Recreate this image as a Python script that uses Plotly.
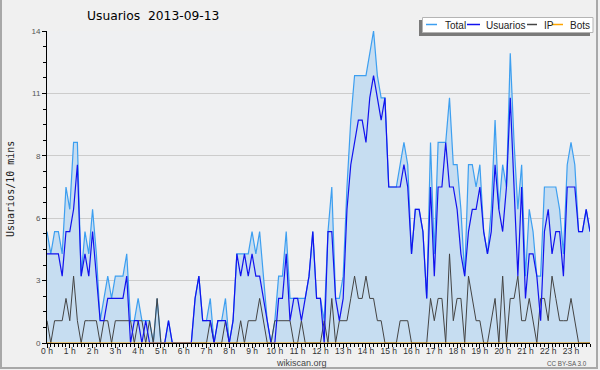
import plotly.graph_objects as go

hours = [f"{h} h" for h in range(24)]
ytick_vals = [0, 2.8, 5.6, 8.4, 11.2, 14]
ytick_text = ["0", "3", "6", "8", "11", "14"]

usuarios = [4, 4, 4, 4, 3, 5, 5, 6, 8, 3, 4, 3, 5, 3, 1, 1, 2, 2, 2, 2,
            2, 3, 0, 1, 1, 0, 1, 0, 0, 0, 0, 0, 1, 0, 0, 0, 0, 0, 0, 2,
            3, 1, 1, 1, 0, 1, 1, 1, 0, 1, 4, 3, 4, 3, 4, 3, 3, 2, 1, 0,
            0, 2, 2, 4, 1, 2, 2, 1, 2, 3, 5, 2, 2, 0, 5, 5, 2, 1, 2, 6,
            8, 9, 10, 10, 9, 11, 12, 11, 10, 11, 7, 7, 7, 7, 8, 7, 4, 6, 6, 5,
            2, 7, 3, 7, 7, 9, 7, 7, 6, 4, 3, 5, 6, 6, 7, 5, 4, 5, 8, 6,
            5, 7, 11, 7, 3, 7, 2, 4, 4, 3, 1, 5, 6, 4, 5, 5, 3, 7, 7, 7,
            5, 5, 6, 5]
ip = [1, 0, 1, 1, 1, 2, 1, 3, 1, 0, 1, 1, 1, 1, 0, 1, 1, 0, 1, 1,
      1, 1, 1, 0, 1, 1, 0, 1, 0, 2, 0, 0, 0, 0, 0, 0, 0, 0, 0, 0,
      0, 0, 0, 1, 0, 0, 0, 1, 0, 0, 0, 1, 0, 1, 1, 1, 2, 1, 0, 0,
      1, 1, 1, 1, 1, 0, 0, 1, 0, 0, 0, 0, 0, 1, 0, 2, 0, 1, 1, 1,
      2, 3, 2, 2, 3, 2, 2, 1, 1, 0, 0, 0, 0, 1, 1, 1, 0, 0, 0, 0,
      0, 2, 1, 2, 2, 0, 4, 1, 2, 2, 0, 3, 2, 1, 1, 0, 0, 1, 2, 0,
      3, 0, 2, 2, 3, 1, 1, 2, 1, 0, 2, 2, 1, 3, 2, 1, 1, 1, 2, 1,
      0, 0, 0, 0]
total = [5, 4, 5, 5, 4, 7, 6, 9, 9, 3, 5, 4, 6, 4, 1, 2, 3, 2, 3, 3,
         3, 4, 1, 1, 2, 1, 1, 1, 0, 2, 0, 0, 1, 0, 0, 0, 0, 0, 0, 2,
         3, 1, 1, 2, 0, 1, 1, 2, 0, 1, 4, 4, 4, 4, 5, 4, 5, 3, 1, 0,
         1, 3, 3, 5, 2, 2, 2, 2, 2, 3, 5, 2, 2, 1, 5, 7, 2, 2, 3, 7,
         10, 12, 12, 12, 12, 13, 14, 12, 11, 11, 7, 7, 7, 8, 9, 8, 4, 6, 6, 5,
         2, 9, 4, 9, 9, 9, 11, 8, 8, 6, 3, 8, 8, 7, 8, 5, 4, 6, 10, 6,
         8, 7, 13, 9, 6, 8, 3, 6, 5, 3, 3, 7, 7, 7, 7, 6, 4, 8, 9, 8,
         5, 5, 6, 5]
bots = [0] * 144
slots = list(range(len(total)))

C_TOTAL = "#3d9ff0"
C_FILL = "#c6ddf1"
C_USR = "#1212ee"
C_IP = "#444444"
C_BOTS = "#ffa500"

W, H = 600, 370
L, R, T, B = 47, 10, 31, 27
PW, PH = W - L - R, H - T - B


def px(x):
    return (x - L) / PW


def py(y):
    return (H - B - y) / PH


fig = go.Figure()
fig.add_trace(go.Scatter(x=slots, y=total, mode="lines", fill="tozeroy",
                         fillcolor=C_FILL, line=dict(color=C_TOTAL, width=1.2),
                         name="Total"))
fig.add_trace(go.Scatter(x=slots, y=ip, mode="lines",
                         line=dict(color=C_IP, width=1.0), name="IP"))
fig.add_trace(go.Scatter(x=slots, y=usuarios, mode="lines",
                         line=dict(color=C_USR, width=1.2), name="Usuarios"))
fig.add_trace(go.Scatter(x=slots, y=bots, mode="lines",
                         line=dict(color=C_BOTS, width=1.0), name="Bots"))

shapes = []
# outer frame (left, right, bottom)
shapes.append(dict(type="line", xref="paper", yref="paper", x0=px(1), x1=px(1), y0=py(0), y1=py(369),
                   line=dict(color="#a8a8a8", width=2)))
shapes.append(dict(type="line", xref="paper", yref="paper", x0=px(597), x1=px(597), y0=py(0), y1=py(369),
                   line=dict(color="#a8a8a8", width=2)))
shapes.append(dict(type="line", xref="paper", yref="paper", x0=px(0), x1=px(598), y0=py(368), y1=py(368),
                   line=dict(color="#a8a8a8", width=2)))
# legend shadow and box
shapes.append(dict(type="rect", xref="paper", yref="paper", x0=px(419), x1=px(590), y0=py(36), y1=py(20),
                   fillcolor="#7a7a7a", line=dict(width=0), layer="above"))
shapes.append(dict(type="rect", xref="paper", yref="paper", x0=px(422.5), x1=px(593), y0=py(32.5), y1=py(17.5),
                   fillcolor="#ffffff", line=dict(color="#b4b4b4", width=1), layer="above"))
leg = [("Total", C_TOTAL, 426, 437, 443),
       ("Usuarios", C_USR, 467, 480, 484),
       ("IP", C_IP, 527, 537, 542),
       ("Bots", C_BOTS, 552, 563, 568)]
annotations = []
for name, col, x0, x1, tx in leg:
    shapes.append(dict(type="line", xref="paper", yref="paper", x0=px(x0), x1=px(x1), y0=py(24.5), y1=py(24.5),
                       line=dict(color=col, width=1.5), layer="above"))
    annotations.append(dict(text=name, xref="paper", yref="paper", x=px(tx), y=py(25), xanchor="left",
                            yanchor="middle", showarrow=False,
                            font=dict(family="Liberation Sans", size=10, color="#222")))

annotations.append(dict(text="Usuarios\u00a0\u00a02013-09-13", xref="paper", yref="paper", x=px(85), y=py(16.5),
                        xanchor="left", yanchor="middle", showarrow=False,
                        font=dict(family="DejaVu Sans", size=12.3, color="#000")))
annotations.append(dict(text="Usuarios/10 mins", xref="paper", yref="paper", x=px(10), y=py(189),
                        xanchor="center", yanchor="middle", textangle=-90, showarrow=False,
                        font=dict(family="DejaVu Sans Mono", size=10, color="#222")))
annotations.append(dict(text="wikiscan.org", xref="paper", yref="paper", x=px(301), y=py(362.5),
                        xanchor="center", yanchor="middle", showarrow=False,
                        font=dict(family="Liberation Sans", size=9, color="#444")))
annotations.append(dict(text="CC BY-SA 3.0", xref="paper", yref="paper", x=px(589), y=py(363),
                        xanchor="right", yanchor="middle", showarrow=False,
                        font=dict(family="Liberation Sans", size=6.3, color="#555")))

fig.update_layout(
    width=W, height=H,
    margin=dict(l=L, r=R, t=T, b=B, pad=0),
    paper_bgcolor="#f0f0f0", plot_bgcolor="#eff0f2",
    showlegend=False,
    shapes=shapes, annotations=annotations,
    xaxis=dict(range=[0, 143], tickmode="array", tickvals=[h * 6 for h in range(24)], ticktext=hours,
               showgrid=False, zeroline=False, showline=True, linecolor="#000", linewidth=1,
               ticks="outside", ticklen=4, tickcolor="#000", ticklabelstandoff=-4,
               tickfont=dict(family="Liberation Sans", size=8.5, color="#333"),
               minor=dict(tickmode="array", tickvals=slots, ticks="outside", ticklen=3, tickcolor="#000",
                          showgrid=False),
               fixedrange=True),
    yaxis=dict(range=[0, 14], tickmode="array", tickvals=ytick_vals, ticktext=ytick_text,
               showgrid=True, gridcolor="#cccccc", gridwidth=1, zeroline=False,
               showline=True, linecolor="#000", linewidth=1,
               ticks="outside", ticklen=4, tickcolor="#000",
               tickfont=dict(family="Liberation Sans", size=8, color="#555"),
               minor=dict(tickmode="array", tickvals=[round(0.7 * k, 2) for k in range(21)], ticks="outside",
                          ticklen=3, tickcolor="#000", showgrid=False),
               fixedrange=True),
)

fig.write_html("out.html", config={"displayModeBar": False},
               post_script="document.body.style.margin='0';document.body.style.overflow='hidden';")
